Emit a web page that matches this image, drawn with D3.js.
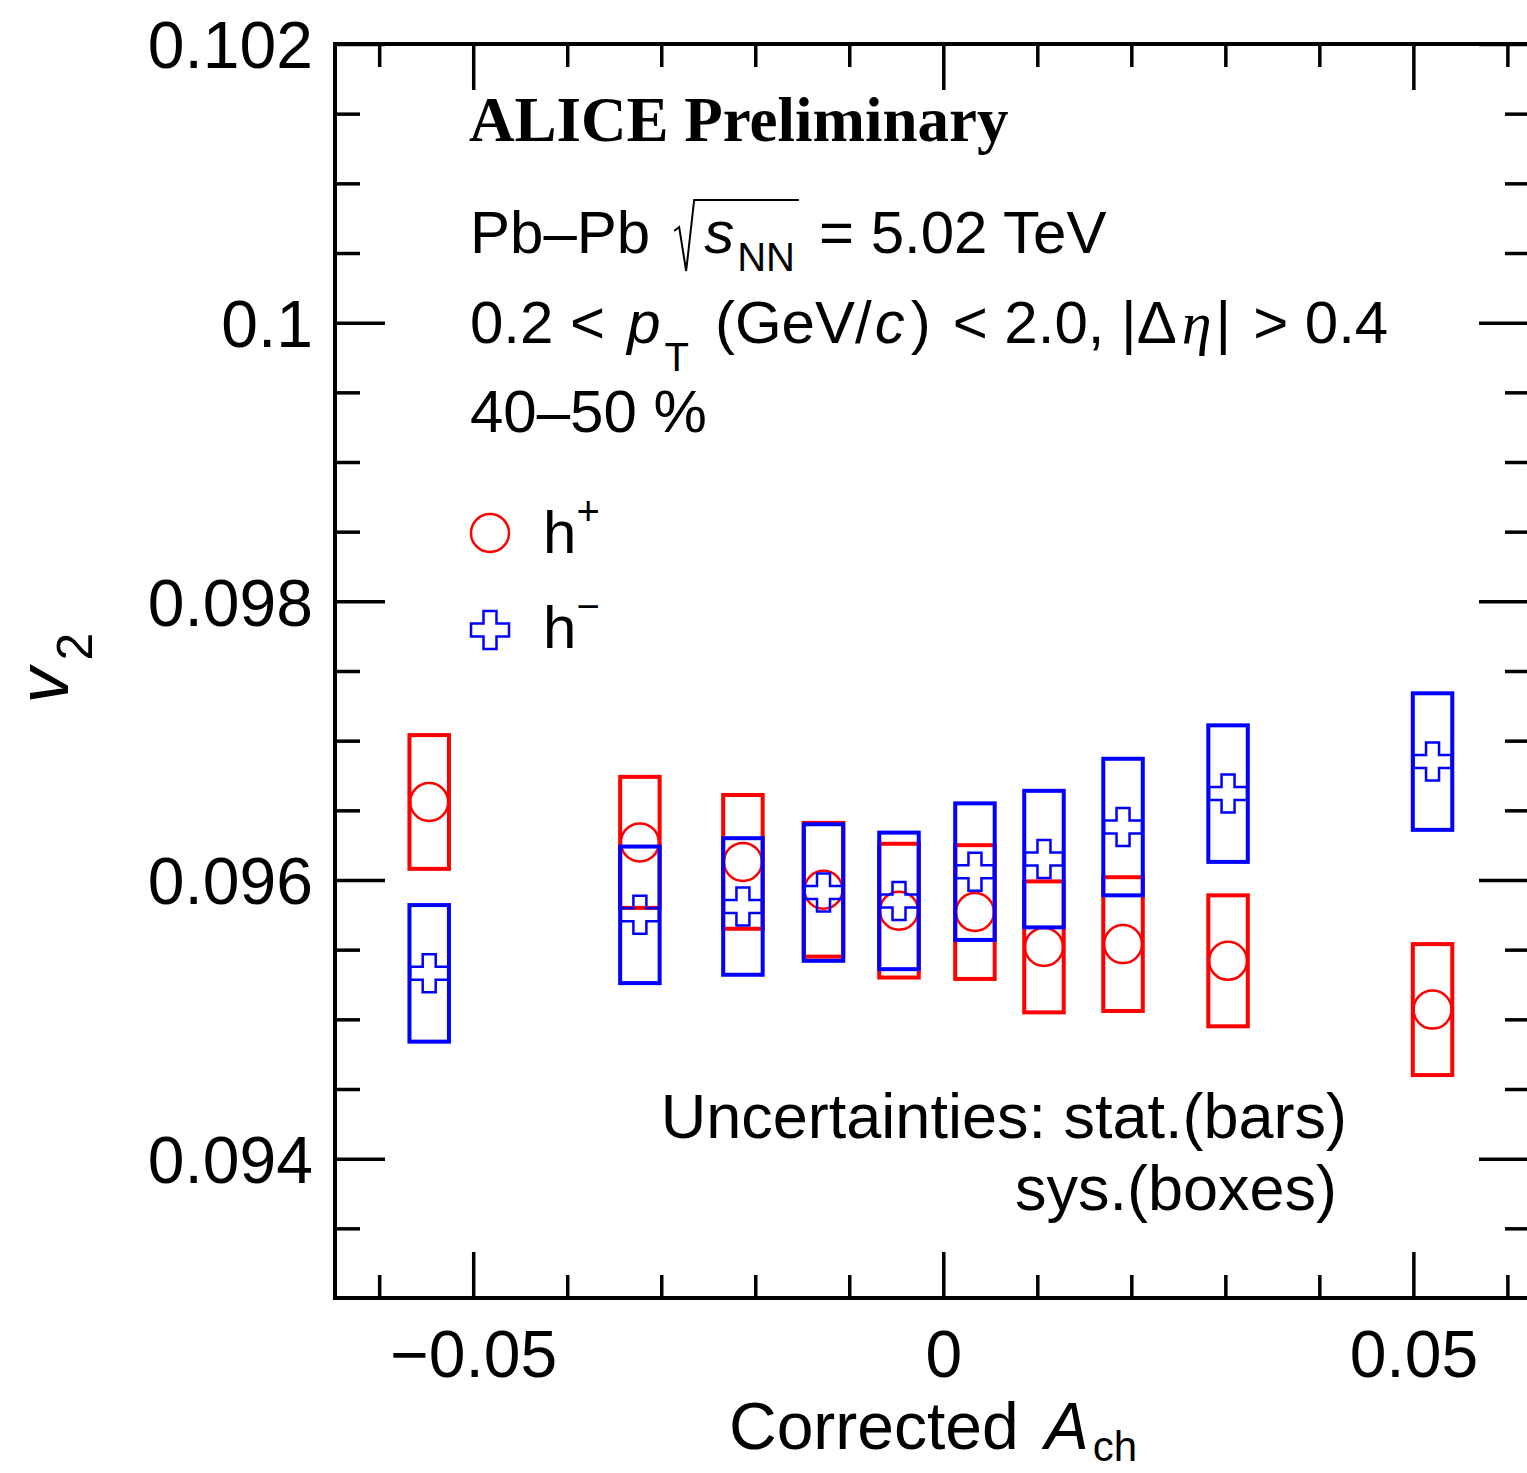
<!DOCTYPE html>
<html>
<head>
<meta charset="utf-8">
<script src="https://cdn.jsdelivr.net/npm/d3@7"></script>
<style>
  body { margin: 0; background: #fff; }
  svg { display: block; }
  text { font-family: "Liberation Sans", Arial, Helvetica, sans-serif; fill: #000; }
  .serif { font-family: "Liberation Serif", "Times New Roman", serif; }
</style>
</head>
<body>
<div id="chart"></div>
<script>
// corrected A_ch bin centres (same for both charges)
const achValues = [-0.05468, -0.03227, -0.02131, -0.01274, -0.00471, 0.00337, 0.01071, 0.01912, 0.03029, 0.05204];

// h+ v2 and its systematic half-height
const v2Pos    = [0.09656, 0.09627, 0.09613, 0.09593, 0.09578, 0.09577, 0.09552, 0.09554, 0.09542, 0.09507];
const sysPos   = [0.00048, 0.00047, 0.00048, 0.00048, 0.00048, 0.00048, 0.00047, 0.00048, 0.00047, 0.00047];

// h- v2 and its systematic half-height
const v2Neg    = [0.09533, 0.09575, 0.09581, 0.09591, 0.09585, 0.09606, 0.09615, 0.09638, 0.09662, 0.09685];
const sysNeg   = [0.00049, 0.00049, 0.00049, 0.00049, 0.00049, 0.00049, 0.00049, 0.00049, 0.00049, 0.00049];

// axis ticks
const xMajorTicks = [-0.05, 0, 0.05];
const xTickLabels = ["\u22120.05", "0", "0.05"];
const xMinorTicks = [-0.06, -0.04, -0.03, -0.02, -0.01, 0.01, 0.02, 0.03, 0.04, 0.06];
const yMajorTicks = [0.094, 0.096, 0.098, 0.1, 0.102];
const yTickLabels = ["0.094", "0.096", "0.098", "0.1", "0.102"];
const yMinorTicks = [0.0935, 0.0945, 0.095, 0.0955, 0.0965, 0.097, 0.0975, 0.0985, 0.099, 0.0995, 0.1005, 0.101, 0.1015];

const W = 1527, H = 1473;
const boxHalfWidth = 0.0021;   // width of the systematic boxes, in A_ch units

const svg = d3.select("#chart").append("svg")
  .attr("width", W)
  .attr("height", H);

const x = d3.scaleLinear().domain([-0.0647, 0.0623]).range([335, 1529]);
const y = d3.scaleLinear().domain([0.093, 0.102]).range([1298, 44]);

function styleAxis(g, w) {
  g.select(".domain").remove();
  g.selectAll(".tick line").attr("stroke", "#000").attr("stroke-width", w);
}

// bottom axis
svg.append("g")
  .attr("transform", "translate(0,1298)")
  .call(d3.axisBottom(x).tickValues(xMinorTicks).tickSize(-23).tickFormat(""))
  .call(g => styleAxis(g, 3.5));
svg.append("g")
  .attr("transform", "translate(0,1298)")
  .call(d3.axisBottom(x).tickValues(xMajorTicks).tickSize(-46).tickPadding(32)
    .tickFormat((d, i) => xTickLabels[i]))
  .call(g => styleAxis(g, 3.5))
  .call(g => g.selectAll("text").attr("font-size", 66).attr("font-family", "Liberation Sans, Arial, sans-serif"));

// top axis (mirrored ticks)
svg.append("g")
  .attr("transform", "translate(0,44)")
  .call(d3.axisTop(x).tickValues(xMinorTicks).tickSize(-23).tickFormat(""))
  .call(g => styleAxis(g, 3.5));
svg.append("g")
  .attr("transform", "translate(0,44)")
  .call(d3.axisTop(x).tickValues(xMajorTicks).tickSize(-46).tickFormat(""))
  .call(g => styleAxis(g, 3.5));

// left axis
svg.append("g")
  .attr("transform", "translate(335,0)")
  .call(d3.axisLeft(y).tickValues(yMinorTicks).tickSize(-25).tickFormat(""))
  .call(g => styleAxis(g, 3.5));
svg.append("g")
  .attr("transform", "translate(335,0)")
  .call(d3.axisLeft(y).tickValues(yMajorTicks).tickSize(-50).tickPadding(22)
    .tickFormat((d, i) => yTickLabels[i]))
  .call(g => styleAxis(g, 3.5))
  .call(g => g.selectAll("text").attr("font-size", 66).attr("dy", "0.36em")
    .attr("font-family", "Liberation Sans, Arial, sans-serif"));

// right axis (mirrored ticks)
svg.append("g")
  .attr("transform", "translate(1529,0)")
  .call(d3.axisRight(y).tickValues(yMinorTicks).tickSize(-24).tickFormat(""))
  .call(g => styleAxis(g, 3.5));
svg.append("g")
  .attr("transform", "translate(1529,0)")
  .call(d3.axisRight(y).tickValues(yMajorTicks).tickSize(-50).tickFormat(""))
  .call(g => styleAxis(g, 3.5));

// frame
svg.append("rect")
  .attr("x", x.range()[0]).attr("y", y.range()[1])
  .attr("width", x.range()[1] - x.range()[0])
  .attr("height", y.range()[0] - y.range()[1])
  .attr("fill", "none").attr("stroke", "#000").attr("stroke-width", 4);

// data
const posData = achValues.map((a, i) => ({ a: a, v: v2Pos[i], s: sysPos[i] }));
const negData = achValues.map((a, i) => ({ a: a, v: v2Neg[i], s: sysNeg[i] }));

const crossPath = (s, h) =>
  `M${-h},${-s}H${h}V${-h}H${s}V${h}H${h}V${s}H${-h}V${h}H${-s}V${-h}H${-h}Z`;

function drawBoxes(data, color) {
  svg.append("g").selectAll("rect")
    .data(data)
    .enter()
    .append("rect")
    .attr("x", d => x(d.a - boxHalfWidth))
    .attr("y", d => y(d.v + d.s))
    .attr("width", d => x(d.a + boxHalfWidth) - x(d.a - boxHalfWidth))
    .attr("height", d => y(d.v - d.s) - y(d.v + d.s))
    .attr("fill", "none")
    .attr("stroke", color)
    .attr("stroke-width", 4);
}

drawBoxes(posData, "#ff0000");
svg.append("g").selectAll("circle")
  .data(posData)
  .enter()
  .append("circle")
  .attr("cx", d => x(d.a))
  .attr("cy", d => y(d.v))
  .attr("r", 19)
  .attr("fill", "none")
  .attr("stroke", "#ff0000")
  .attr("stroke-width", 2.5);

drawBoxes(negData, "#0000ff");
svg.append("g").selectAll("path")
  .data(negData)
  .enter()
  .append("path")
  .attr("transform", d => `translate(${x(d.a)},${y(d.v)})`)
  .attr("d", crossPath(19, 6.5))
  .attr("fill", "none")
  .attr("stroke", "#0000ff")
  .attr("stroke-width", 2.5);

// axis titles
svg.append("text")
  .attr("transform", "translate(68,668) rotate(-90)")
  .attr("text-anchor", "middle")
  .attr("font-size", 72)
  .call(t => {
    t.append("tspan").attr("font-style", "italic").text("v");
    t.append("tspan").attr("font-size", 50).attr("dx", 7).attr("dy", 24).text("2");
  });

svg.append("text")
  .attr("x", 729).attr("y", 1449)
  .attr("font-size", 66)
  .call(t => {
    t.append("tspan").text("Corrected");
    t.append("tspan").attr("font-style", "italic").attr("dx", 26).text("A");
    t.append("tspan").attr("font-size", 42).attr("dx", 4).attr("dy", 12).text("ch");
  });

// annotations
svg.append("text")
  .attr("class", "serif")
  .attr("x", 469).attr("y", 141)
  .attr("font-size", 63)
  .attr("font-weight", "bold")
  .text("ALICE Preliminary");

// Pb-Pb line with a drawn radical
const l1y = 253;
const t1 = svg.append("text").attr("x", 470).attr("y", l1y).attr("font-size", 60).text("Pb\u2013Pb");
const radX = 470 + t1.node().getComputedTextLength() + 24;
const t2 = svg.append("text").attr("x", radX + 30).attr("y", l1y).attr("font-size", 60);
t2.append("tspan").attr("font-style", "italic").text("s");
t2.append("tspan").attr("font-size", 40).attr("dx", 3).attr("dy", 18).text("NN");
const rootEnd = radX + 33 + t2.node().getComputedTextLength() + 4;
svg.append("path")
  .attr("d", `M${radX},${l1y - 22}L${radX + 5},${l1y - 26}L${radX + 12},${l1y + 18}L${radX + 20},${l1y - 53}H${rootEnd}`)
  .attr("fill", "none").attr("stroke", "#000").attr("stroke-width", 2);
svg.append("text").attr("x", rootEnd + 20).attr("y", l1y).attr("font-size", 60).text("= 5.02 TeV");

svg.append("text")
  .attr("x", 470).attr("y", 343)
  .attr("font-size", 60)
  .call(t => {
    t.append("tspan").text("0.2 <");
    t.append("tspan").attr("font-style", "italic").attr("dx", 22).text("p");
    t.append("tspan").attr("font-size", 40).attr("dx", 4).attr("dy", 28).text("T");
    t.append("tspan").attr("dx", 26).attr("dy", -28).text("(GeV/");
    t.append("tspan").attr("font-style", "italic").attr("dx", 3).text("c");
    t.append("tspan").attr("dx", 6).text(")");
    t.append("tspan").attr("dx", 22).text("< 2.0, |\u0394");
    t.append("tspan").attr("class", "serif").attr("font-style", "italic").attr("dx", 5).text("\u03b7");
    t.append("tspan").attr("dx", 4).text("|");
    t.append("tspan").attr("dx", 22).text("> 0.4");
  });

svg.append("text")
  .attr("x", 470).attr("y", 432)
  .attr("font-size", 60)
  .text("40\u201350 %");

// legend
svg.append("circle")
  .attr("cx", 490).attr("cy", 533).attr("r", 19)
  .attr("fill", "none").attr("stroke", "#ff0000").attr("stroke-width", 2.5);
svg.append("text")
  .attr("x", 543).attr("y", 553).attr("font-size", 60)
  .call(t => {
    t.append("tspan").text("h");
    t.append("tspan").attr("font-size", 40).attr("dy", -28).text("+");
  });
svg.append("path")
  .attr("transform", "translate(490,630)")
  .attr("d", crossPath(19, 6.5))
  .attr("fill", "none").attr("stroke", "#0000ff").attr("stroke-width", 2.5);
svg.append("text")
  .attr("x", 543).attr("y", 648).attr("font-size", 60)
  .call(t => {
    t.append("tspan").text("h");
    t.append("tspan").attr("font-size", 40).attr("dy", -28).text("\u2212");
  });

svg.append("text")
  .attr("x", 1347).attr("y", 1138)
  .attr("font-size", 63)
  .attr("text-anchor", "end")
  .text("Uncertainties: stat.(bars)");
svg.append("text")
  .attr("x", 1337).attr("y", 1210)
  .attr("font-size", 63)
  .attr("text-anchor", "end")
  .text("sys.(boxes)");
</script>
</body>
</html>
